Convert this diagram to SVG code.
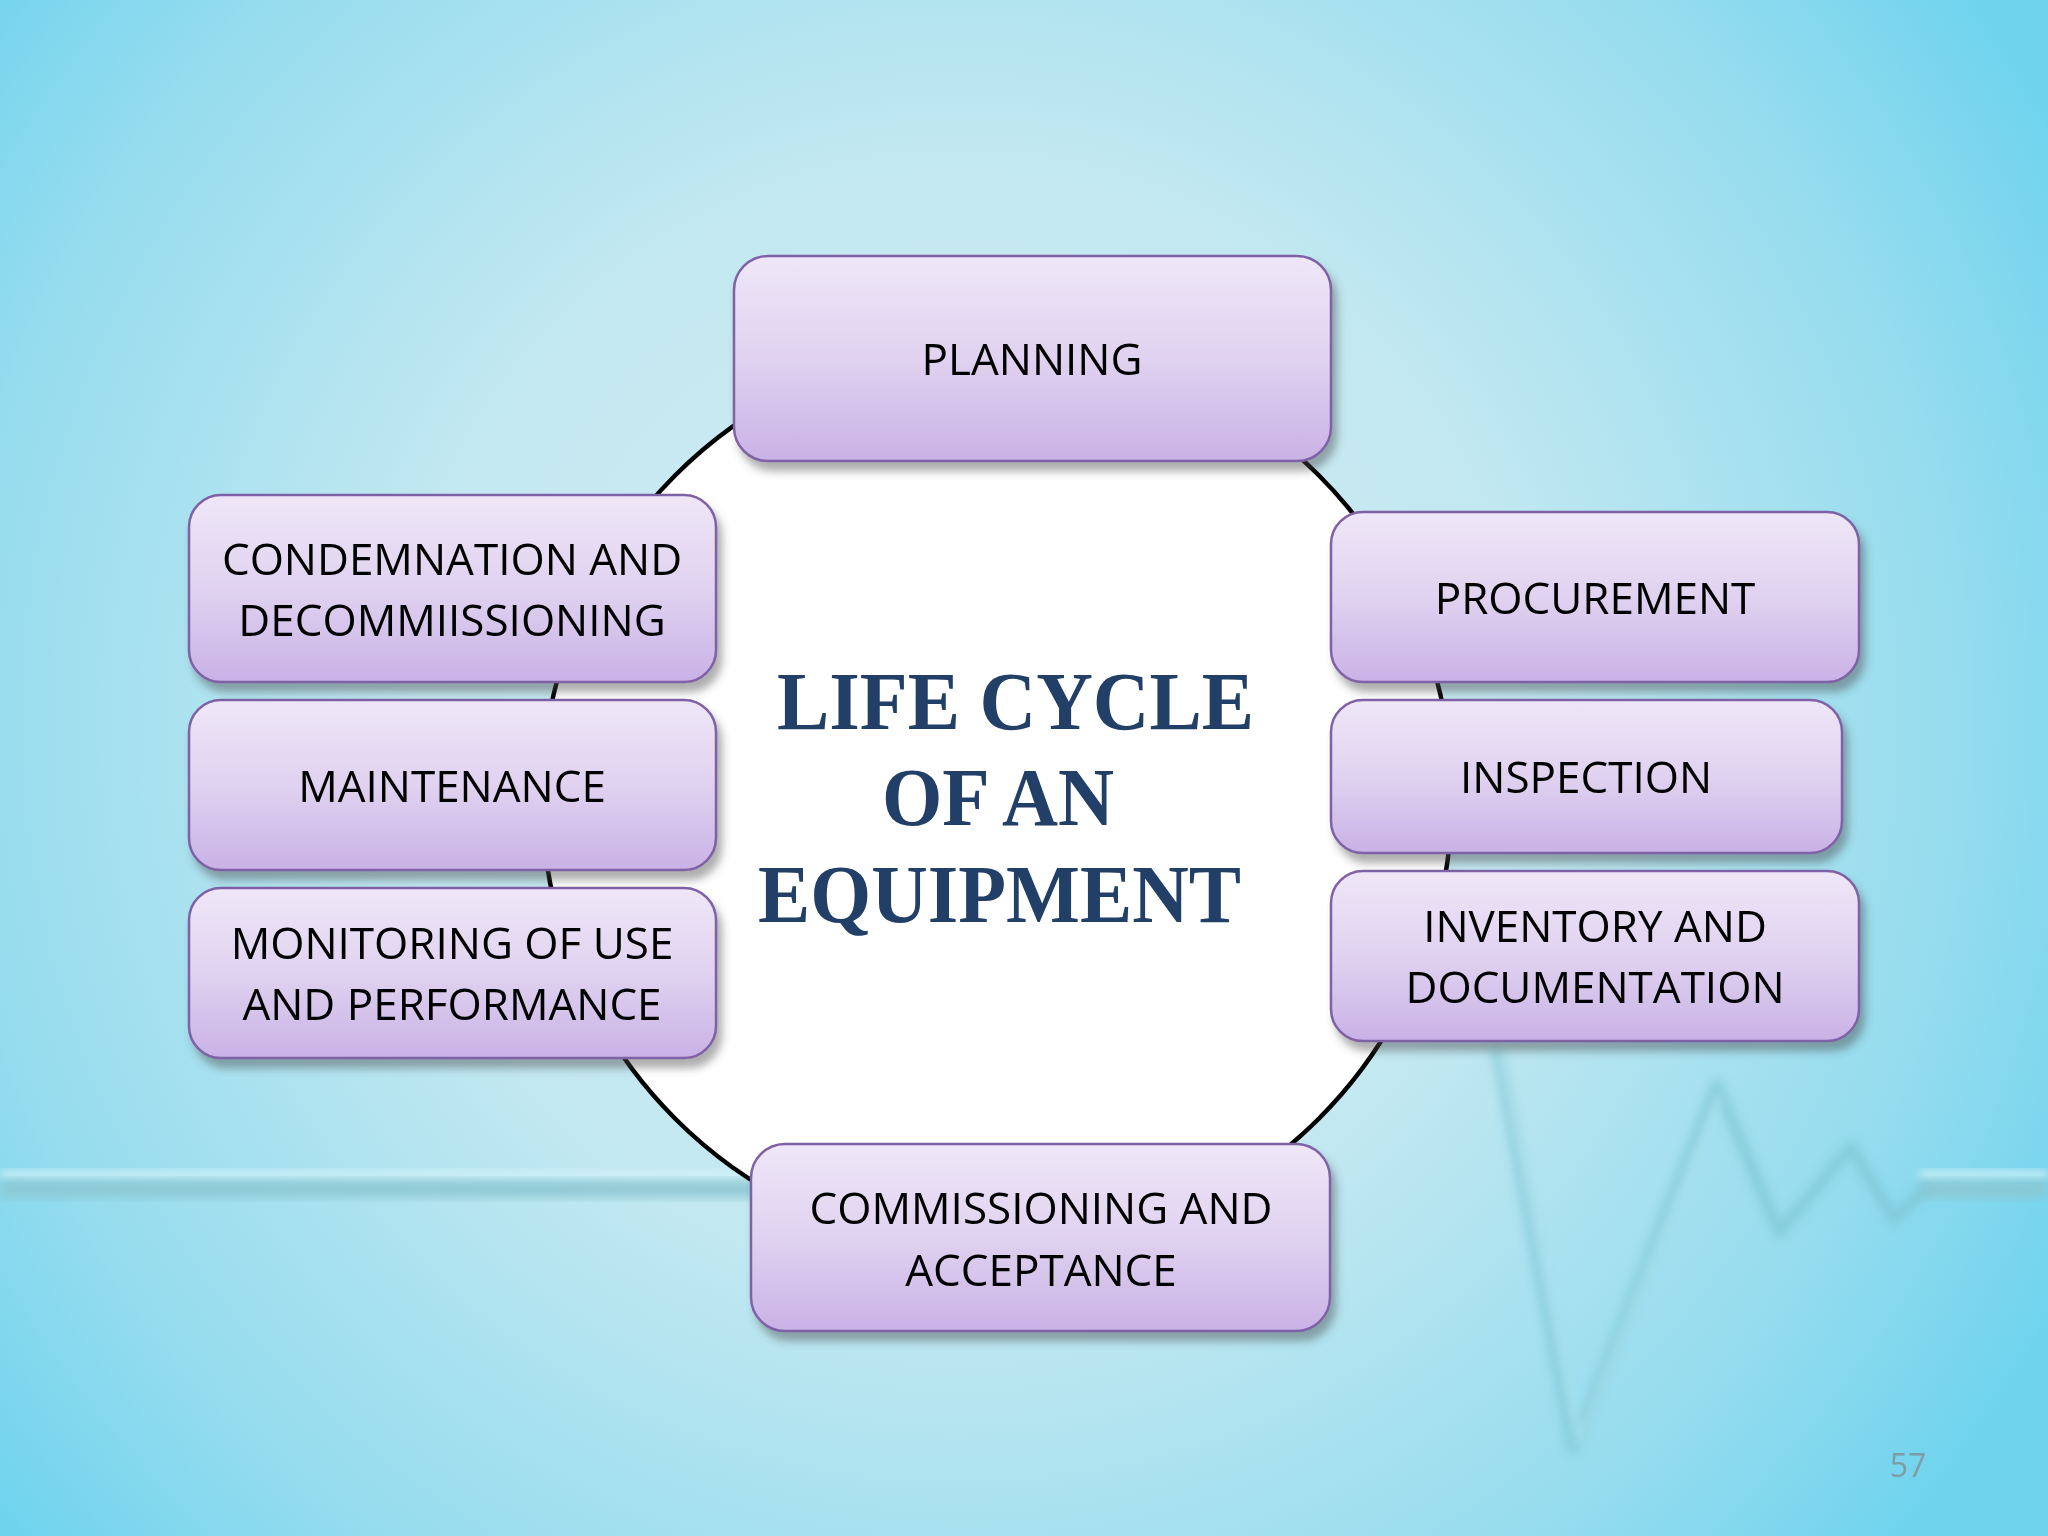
<svg xmlns="http://www.w3.org/2000/svg" width="2048" height="1536" viewBox="0 0 2048 1536">
  <defs>
    <radialGradient id="bg" cx="960" cy="720" r="1250" gradientUnits="userSpaceOnUse">
      <stop offset="0" stop-color="#d6edf3"/>
      <stop offset="0.45" stop-color="#c2e8f1"/>
      <stop offset="0.8" stop-color="#95dcee"/>
      <stop offset="1" stop-color="#6fd3ee"/>
    </radialGradient>
    <linearGradient id="box" x1="0" y1="0" x2="0" y2="1">
      <stop offset="0" stop-color="#efe7f8"/>
      <stop offset="0.5" stop-color="#e0d2f0"/>
      <stop offset="1" stop-color="#c9b2e6"/>
    </linearGradient>
    <filter id="shadow" x="-10%" y="-10%" width="125%" height="130%">
      <feDropShadow dx="5" dy="9" stdDeviation="4" flood-color="#4a4a4a" flood-opacity="0.45"/>
    </filter>
    <filter id="blur" x="-20%" y="-20%" width="140%" height="140%">
      <feGaussianBlur stdDeviation="5"/>
    </filter>
    <style>
      .node rect { fill: url(#box); stroke: #7f62a6; stroke-width: 2.5; filter: url(#shadow); }
      .node text { font-family: "Open Sans", "Noto Sans", sans-serif; font-size: 44px; fill: #000; text-anchor: middle; }
      .title { font-family: "Liberation Serif", "Times New Roman", serif; font-weight: bold; font-size: 82px; fill: #223f67; }
    </style>
  </defs>

  <!-- background -->
  <rect x="0" y="0" width="2048" height="1536" fill="url(#bg)"/>
  <g opacity="0.85">
    <rect x="0" y="1170" width="760" height="10" fill="#d2f1f8" filter="url(#blur)"/>
    <rect x="0" y="1180" width="760" height="18" fill="#8cc7d2" filter="url(#blur)"/>
    <rect x="1920" y="1170" width="128" height="10" fill="#d2f1f8" filter="url(#blur)"/>
    <rect x="1920" y="1180" width="128" height="18" fill="#8cc7d2" filter="url(#blur)"/>
  </g>
  <g opacity="0.7">
    <path d="M1497,1048 L1573,1448 L1717,1085 L1779,1232 L1851,1147 L1894,1219 L1925,1190" fill="none" stroke="#7fc6d4" stroke-width="12" stroke-linejoin="round" filter="url(#blur)"/>
    <path d="M1500,1048 L1578,1440 L1720,1095" fill="none" stroke="#d0f5fb" stroke-width="4" opacity="0.7" filter="url(#blur)"/>
  </g>

  <!-- connectors: cycle circle -->
  <g id="connectors">
    <circle cx="997" cy="797" r="455" fill="#ffffff" stroke="#000000" stroke-width="4.5"/>
  </g>

  <!-- center title -->
  <g id="title">
    <text class="title" x="777" y="729" textLength="477" lengthAdjust="spacingAndGlyphs">LIFE CYCLE</text>
    <text class="title" x="882" y="825" textLength="232" lengthAdjust="spacingAndGlyphs">OF AN</text>
    <text class="title" x="758" y="922" textLength="483" lengthAdjust="spacingAndGlyphs">EQUIPMENT</text>
  </g>

  <g id="planning" class="node">
    <rect x="734" y="256" width="597" height="205" rx="34"/>
    <text x="1032" y="375">PLANNING</text>
  </g>
  <g id="procurement" class="node">
    <rect x="1331" y="512" width="528" height="170" rx="32"/>
    <text x="1595" y="614">PROCUREMENT</text>
  </g>
  <g id="inspection" class="node">
    <rect x="1331" y="700" width="511" height="153" rx="32"/>
    <text x="1586" y="793">INSPECTION</text>
  </g>
  <g id="inventory" class="node">
    <rect x="1331" y="871" width="528" height="170" rx="32"/>
    <text x="1595" y="942">INVENTORY AND</text>
    <text x="1595" y="1003">DOCUMENTATION</text>
  </g>
  <g id="commissioning" class="node">
    <rect x="751" y="1144" width="579" height="187" rx="34"/>
    <text x="1041" y="1224">COMMISSIONING AND</text>
    <text x="1041" y="1286">ACCEPTANCE</text>
  </g>
  <g id="monitoring" class="node">
    <rect x="189" y="888" width="527" height="170" rx="32"/>
    <text x="452" y="959">MONITORING OF USE</text>
    <text x="452" y="1020">AND PERFORMANCE</text>
  </g>
  <g id="maintenance" class="node">
    <rect x="189" y="700" width="527" height="170" rx="32"/>
    <text x="452" y="802">MAINTENANCE</text>
  </g>
  <g id="condemnation" class="node">
    <rect x="189" y="495" width="527" height="187" rx="32"/>
    <text x="452" y="575">CONDEMNATION AND</text>
    <text x="452" y="636">DECOMMIISSIONING</text>
  </g>

  <text x="1908" y="1477" font-family="Open Sans, Noto Sans, sans-serif" font-size="32" fill="#7f9ba6" text-anchor="middle">57</text>
</svg>
